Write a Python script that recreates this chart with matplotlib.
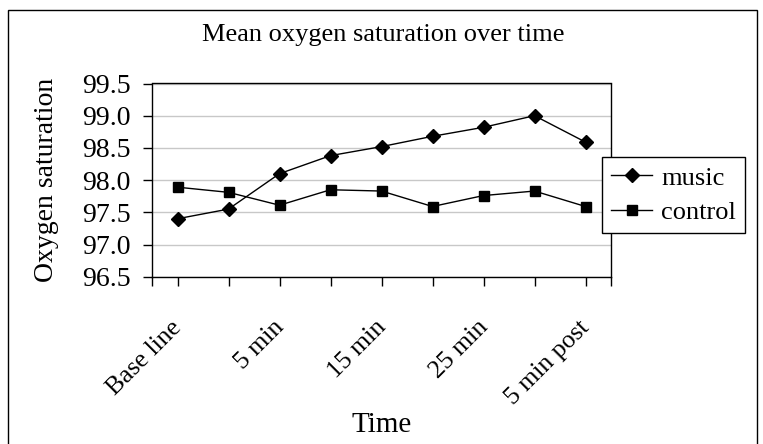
import matplotlib
matplotlib.use("Agg")
import matplotlib.pyplot as plt
from matplotlib.patches import Rectangle
from matplotlib.transforms import ScaledTranslation

categories = ["Base line", "0 min", "5 min", "10 min", "15 min", "20 min", "25 min", "30 min", "5 min post"]
shown_labels = ["Base line", "", "5 min", "", "15 min", "", "25 min", "", "5 min post"]
music = [97.40, 97.55, 98.10, 98.38, 98.52, 98.68, 98.82, 99.00, 98.59]
control = [97.89, 97.81, 97.61, 97.85, 97.83, 97.59, 97.76, 97.83, 97.59]
yticks = [96.5, 97.0, 97.5, 98.0, 98.5, 99.0, 99.5]

plt.rcParams['font.family'] = ['Liberation Serif', 'DejaVu Serif']

W, H = 763, 444
fig = plt.figure(figsize=(W/100, H/100), dpi=100)
fig.patch.set_facecolor('white')

# outer chart frame
fig.patches.append(Rectangle((8/W, -0.01), (757-8)/W, 1-10/H+0.01, transform=fig.transFigure,
                             fill=False, edgecolor='black', linewidth=1.0))

left, right, top, bottom = 152, 611, 83.5, 276.7
ax = fig.add_axes([left/W, 1-bottom/H, (right-left)/W, (bottom-top)/H])

x = list(range(len(categories)))
ax.plot(x, music, color='black', lw=1.0, marker='D', ms=7, mfc='black', mec='black', label='music', zorder=3)
ax.plot(x, control, color='black', lw=1.0, marker='s', ms=7, mfc='black', mec='black', label='control', zorder=3)

ax.set_xlim(-0.5, len(categories)-0.5)
ax.set_ylim(96.5, 99.5)
ax.set_yticks(yticks)
ax.set_yticklabels([f"{v:.1f}" for v in yticks], fontsize=20)
ax.yaxis.grid(True, color='#c8c8c8', lw=1.0)
ax.set_axisbelow(True)

ax.set_xticks([-0.5] + x + [len(categories)-0.5])
ax.set_xticklabels([""] + shown_labels + [""], rotation=45, ha='right', rotation_mode='anchor', fontsize=18.5)
ax.tick_params(axis='both', direction='out', length=6.5, width=1, color='black')
ax.tick_params(axis='y', pad=9)
ax.tick_params(axis='x', pad=22)
offset = ScaledTranslation(-7/100, 0, fig.dpi_scale_trans)
for lab in ax.get_xticklabels():
    lab.set_transform(lab.get_transform() + offset)
for s in ax.spines.values():
    s.set_color('black')
    s.set_linewidth(1.0)

ax.set_ylabel("Oxygen saturation", fontsize=20)
ax.yaxis.set_label_coords(-(left-47)/(right-left), 0.5)
ax.yaxis.label.set_va('center')
ax.set_xlabel("Time", fontsize=21)
ax.xaxis.set_label_coords(0.5, -(425-bottom)/(bottom-top))
ax.xaxis.label.set_va('center')
fig.text(383/W, 1-35/H, "Mean oxygen saturation over time", ha='center', va='center', fontsize=19)

leg = ax.legend(loc='upper left', bbox_to_anchor=(602/W, 1-157/H), bbox_transform=fig.transFigure,
                frameon=True, fancybox=False, edgecolor='black', framealpha=1, fontsize=19,
                handlelength=1.55, borderaxespad=0, labelspacing=0.4, borderpad=0.35, handletextpad=0.35)
leg.get_frame().set_linewidth(1.0)

fig.savefig("out.png", dpi=100)
